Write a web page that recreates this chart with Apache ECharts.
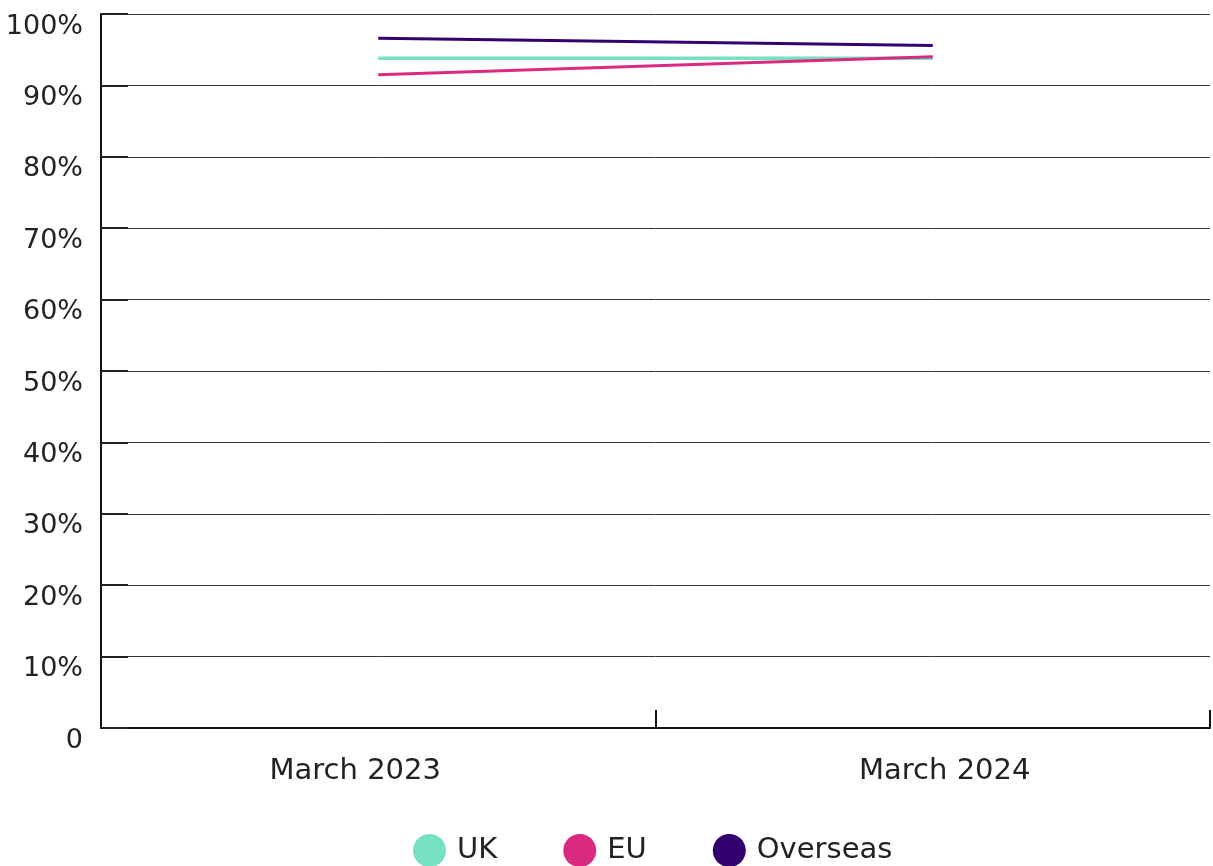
<!DOCTYPE html>
<html>
<head>
<meta charset="utf-8">
<script src="https://cdn.jsdelivr.net/npm/echarts@6/dist/echarts.min.js"></script>
<style>
html,body{margin:0;padding:0;background:#fff;}
#chart{width:1213px;height:866px;}
</style>
</head>
<body>
<div id="chart"></div>
<script>
const categories = ['March 2023', 'March 2024'];
const ukValues = [93.8, 93.8];
const euValues = [91.5, 94.0];
const overseasValues = [96.6, 95.6];
const yTicks = [0, 10, 20, 30, 40, 50, 60, 70, 80, 90, 100];

const FONT = 'DejaVu Sans';
const chart = echarts.init(document.getElementById('chart'));
chart.setOption({
  backgroundColor: '#fff',
  animation: false,
  grid: { left: 101, right: 3, top: 14, bottom: 138, containLabel: false },
  legend: {
    top: 829,
    left: 408,
    icon: 'circle',
    itemWidth: 33,
    itemHeight: 33,
    itemGap: 66,
    textStyle: { fontFamily: FONT, fontSize: 29, color: '#222', padding: [0, 0, 0, 6] },
    data: ['UK', 'EU', 'Overseas']
  },
  xAxis: {
    type: 'category',
    data: categories,
    boundaryGap: true,
    axisLine: { show: true, lineStyle: { color: '#111', width: 2 } },
    axisTick: { show: true, inside: true, length: 18, lineStyle: { color: '#111', width: 2 } },
    axisLabel: {
      margin: 29,
      fontFamily: FONT,
      fontSize: 29,
      color: '#222',
      formatter: function (v, i) { return i === 0 ? '{a|' + v + '}' : '{b|' + v + '}'; },
      rich: {
        a: { fontFamily: FONT, fontSize: 29, color: '#222', padding: [0, 46, 0, 0] },
        b: { fontFamily: FONT, fontSize: 29, color: '#222', padding: [0, 0, 0, 24] }
      }
    },
    splitLine: { show: false }
  },
  yAxis: {
    type: 'value',
    min: 0,
    max: 100,
    interval: 10,
    axisLine: { show: true, lineStyle: { color: '#111', width: 2 } },
    axisTick: { show: true, inside: true, length: 27, lineStyle: { color: '#222', width: 2 } },
    axisLabel: {
      margin: 18,
      color: '#222',
      formatter: function (v) {
        if (yTicks.indexOf(v) < 0) return '';
        return '{v|' + (v === 0 ? '0' : v + '%') + '}';
      },
      rich: {
        v: { fontFamily: FONT, fontSize: 27, color: '#222', padding: [25, 0, 0, 0] }
      }
    },
    splitLine: { show: true, lineStyle: { color: '#333', width: 1 } }
  },
  series: [
    { name: 'UK', type: 'line', data: ukValues, symbol: 'none', lineStyle: { width: 3.5, color: '#76E0C2' }, itemStyle: { color: '#76E0C2' } },
    { name: 'EU', type: 'line', data: euValues, symbol: 'none', lineStyle: { width: 3, color: '#D92A80' }, itemStyle: { color: '#D92A80' } },
    { name: 'Overseas', type: 'line', data: overseasValues, symbol: 'none', lineStyle: { width: 3, color: '#33006F' }, itemStyle: { color: '#33006F' } }
  ]
});
</script>
</body>
</html>
